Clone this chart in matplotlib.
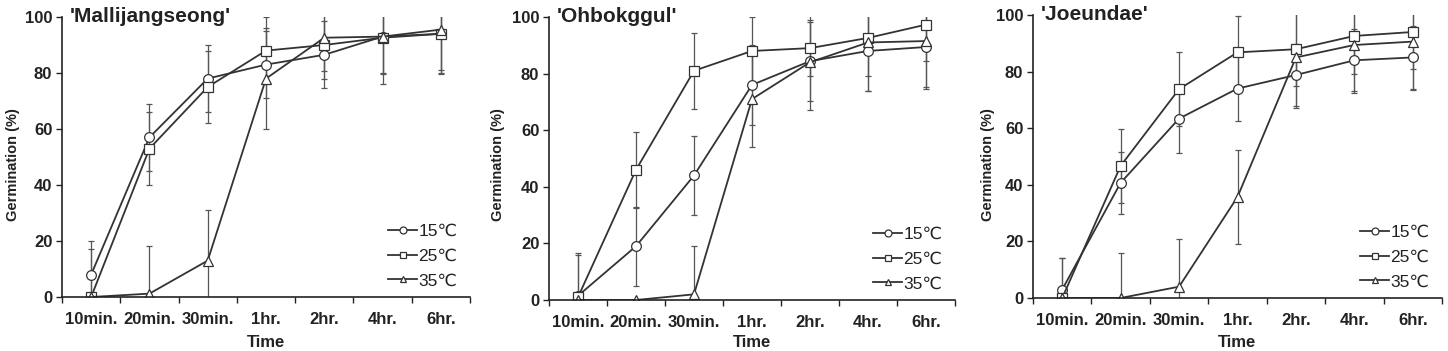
import matplotlib
matplotlib.use("Agg")
import matplotlib.pyplot as plt
from matplotlib.lines import Line2D
import numpy as np

plt.rcParams['font.family'] = ['Liberation Sans', 'DejaVu Sans']

times = ["10min.", "20min.", "30min.", "1hr.", "2hr.", "4hr.", "6hr."]
temps = ["15\u2103", "25\u2103", "35\u2103"]
cultivars = ["'Mallijangseong'", "'Ohbokggul'", "'Joeundae'"]

# Mallijangseong
m_15 = [8, 57, 78, 83, 86.5, 93, 94]
m_25 = [0, 53, 75, 88, 90, 92.6, 94]
m_35 = [0, 1.2, 13, 78, 92.6, 93, 95.5]
m_15_err = [12, 12, 12, 12, 12, 13, 13]
m_25_err = [17, 13, 13, 12, 12, 13, 14]
m_35_err = [0, 17, 18, 18, 12, 17, 16]

# Ohbokggul
o_15 = [1.5, 19, 44, 76, 84.4, 88, 89.4]
o_25 = [1, 46, 81, 88, 89, 92.6, 97.3]
o_35 = [0, 0, 2, 71, 84, 91, 91.5]
o_15_err = [15, 14, 14, 14, 14, 14, 14]
o_25_err = [15, 13.5, 13.5, 12, 10, 13.5, 13]
o_35_err = [0, 0, 17, 17, 17, 17, 17]

# Joeundae
j_15 = [3, 40.7, 63.4, 74, 78.8, 84, 85]
j_25 = [0, 46.7, 73.8, 86.8, 87.9, 92.6, 94]
j_35 = [0, 0, 4, 35.7, 85, 89.4, 90.6]
j_15_err = [11, 11, 12, 11.5, 11, 11, 11]
j_25_err = [14, 13, 13, 13, 13, 13.5, 13]
j_35_err = [0, 16, 17, 16.5, 18, 17, 17]

panels = [
    ([m_15, m_25, m_35], [m_15_err, m_25_err, m_35_err]),
    ([o_15, o_25, o_35], [o_15_err, o_25_err, o_35_err]),
    ([j_15, j_25, j_35], [j_15_err, j_25_err, j_35_err]),
]

markers = ['o', 's', '^']
positions = [
    [62/1448, 54/351, 408/1448, 280/351],
    [549/1448, 51/351, 406/1448, 283/351],
    [1033/1448, 53/351, 409/1448, 283/351],
]
ylabel_x = [13, 498, 988]

fig = plt.figure(figsize=(14.48, 3.51), dpi=100)
tc = '#222222'
lc = '#333333'
x = np.arange(len(times))

for i, (pos, (vals, errs)) in enumerate(zip(positions, panels)):
    ax = fig.add_axes(pos)
    handles = []
    for v, e, mk, lab in zip(vals, errs, markers, temps):
        ax.errorbar(x, v, yerr=e, color=lc, ecolor='#555555', elinewidth=0.9,
                    capsize=2.5, capthick=0.9, lw=1.3, marker=mk,
                    markersize=7 if mk != 's' else 6.5,
                    markerfacecolor='white', markeredgecolor=lc, markeredgewidth=0.9)
        handles.append(Line2D([], [], color=lc, lw=1.3, marker=mk, markersize=5,
                              markerfacecolor='white', markeredgecolor=lc,
                              markeredgewidth=0.9, label=lab))
    ax.set_xlim(-0.5, 6.5)
    ax.set_ylim(0, 100)
    ax.set_yticks([0, 20, 40, 60, 80, 100])
    ax.set_xticks(x)
    ax.set_xticklabels(times)
    ax.set_xticks(np.arange(-0.5, 7.0, 1.0), minor=True)
    ax.tick_params(axis='x', which='major', length=0, pad=11, labelsize=12, labelcolor=tc)
    ax.tick_params(axis='x', which='minor', length=4, direction='out', width=1, color=tc)
    ax.tick_params(axis='y', length=4, direction='out', width=1, labelsize=12,
                   labelcolor=tc, color=tc, pad=3)
    for lbl in ax.get_xticklabels() + ax.get_yticklabels():
        lbl.set_fontweight('bold')
    ax.spines['top'].set_visible(False)
    ax.spines['right'].set_visible(False)
    ax.spines['left'].set_color(tc)
    ax.spines['bottom'].set_color(tc)
    ax.spines['left'].set_linewidth(1.2)
    ax.spines['bottom'].set_linewidth(1.2)
    ax.text(0.018, 1.0, cultivars[i], transform=ax.transAxes, ha='left', va='center',
            fontsize=15, fontweight='bold', color=tc)
    leg = ax.legend(handles=handles, loc='lower right', frameon=False, fontsize=12.5,
                    handlelength=1.7, handletextpad=0.05, labelspacing=0.55,
                    borderaxespad=0.1, bbox_to_anchor=(0.99, 0.0))
    for t in leg.get_texts():
        t.set_color(tc)
    fig.text(ylabel_x[i] / 1448, 1 - 165 / 351, "Germination (%)", rotation=90,
             ha='center', va='center', fontsize=10.5, fontweight='bold', color=tc)
    cx = pos[0] + pos[2] * (3.5 / 7)
    fig.text(cx, 1 / 351, "Time", ha='center', va='bottom', fontsize=12,
             fontweight='bold', color=tc)

fig.savefig("out.png", dpi=100)
